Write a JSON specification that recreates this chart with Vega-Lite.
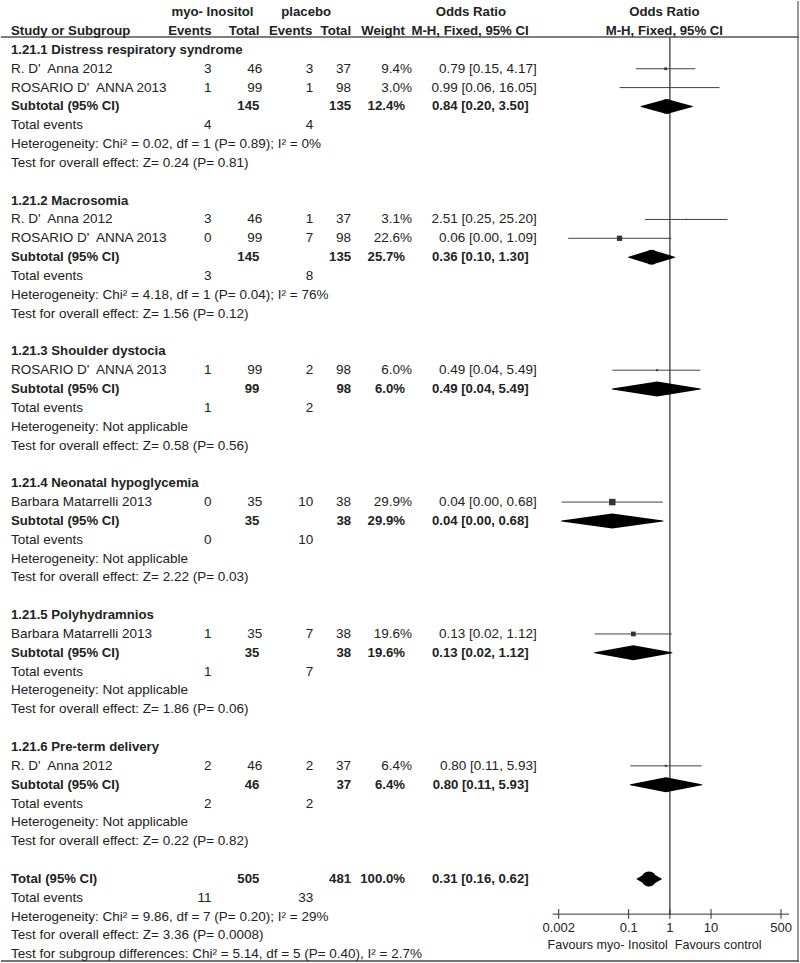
{
  "$schema": "https://vega.github.io/schema/vega-lite/v6.json",
  "width": 800,
  "height": 963,
  "autosize": {"type": "fit", "contains": "padding"},
  "padding": 0,
  "background": "white",
  "config": {
    "view": {"stroke": null},
    "text": {"font": "Liberation Sans", "fontSize": 13.5, "color": "#222", "baseline": "middle"}
  },
  "datasets": {
    "rows": [
      {"r": -2, "kind": "header1", "h1": "myo- Inositol", "h2": "placebo", "h3": "Odds Ratio", "h4": "Odds Ratio"},
      {"r": -1, "kind": "header", "label": "Study or Subgroup", "me": "Events", "mt": "Total", "pe": "Events", "pt": "Total", "w": "Weight", "or": "M-H, Fixed, 95% CI", "h4": "M-H, Fixed, 95% CI"},
      {"r": 0, "kind": "group", "label": "1.21.1 Distress respiratory syndrome"},
      {"r": 1, "kind": "study", "label": "R. D'\u00a0 Anna 2012", "me": "3", "mt": "46", "pe": "3", "pt": "37", "w": "9.4%", "or": "0.79 [0.15, 4.17]", "est": 0.79, "lo": 0.15, "hi": 4.17, "wn": 9.4},
      {"r": 2, "kind": "study", "label": "ROSARIO D'\u00a0 ANNA 2013", "me": "1", "mt": "99", "pe": "1", "pt": "98", "w": "3.0%", "or": "0.99 [0.06, 16.05]", "est": 0.99, "lo": 0.06, "hi": 16.05, "wn": 3.0},
      {"r": 3, "kind": "subtotal", "label": "Subtotal (95% CI)", "mt": "145", "pt": "135", "w": "12.4%", "or": "0.84 [0.20, 3.50]", "est": 0.84, "lo": 0.20, "hi": 3.50},
      {"r": 4, "kind": "info", "label": "Total events", "me": "4", "pe": "4"},
      {"r": 5, "kind": "info", "label": "Heterogeneity: Chi² = 0.02, df = 1 (P= 0.89); I² = 0%"},
      {"r": 6, "kind": "info", "label": "Test for overall effect: Z= 0.24 (P= 0.81)"},
      {"r": 8, "kind": "group", "label": "1.21.2 Macrosomia"},
      {"r": 9, "kind": "study", "label": "R. D'\u00a0 Anna 2012", "me": "3", "mt": "46", "pe": "1", "pt": "37", "w": "3.1%", "or": "2.51 [0.25, 25.20]", "est": 2.51, "lo": 0.25, "hi": 25.20, "wn": 3.1},
      {"r": 10, "kind": "study", "label": "ROSARIO D'\u00a0 ANNA 2013", "me": "0", "mt": "99", "pe": "7", "pt": "98", "w": "22.6%", "or": "0.06 [0.00, 1.09]", "est": 0.06, "lo": 0.0034, "hi": 1.09, "wn": 22.6},
      {"r": 11, "kind": "subtotal", "label": "Subtotal (95% CI)", "mt": "145", "pt": "135", "w": "25.7%", "or": "0.36 [0.10, 1.30]", "est": 0.36, "lo": 0.10, "hi": 1.30},
      {"r": 12, "kind": "info", "label": "Total events", "me": "3", "pe": "8"},
      {"r": 13, "kind": "info", "label": "Heterogeneity: Chi² = 4.18, df = 1 (P= 0.04); I² = 76%"},
      {"r": 14, "kind": "info", "label": "Test for overall effect: Z= 1.56 (P= 0.12)"},
      {"r": 16, "kind": "group", "label": "1.21.3 Shoulder dystocia"},
      {"r": 17, "kind": "study", "label": "ROSARIO D'\u00a0 ANNA 2013", "me": "1", "mt": "99", "pe": "2", "pt": "98", "w": "6.0%", "or": "0.49 [0.04, 5.49]", "est": 0.49, "lo": 0.04, "hi": 5.49, "wn": 6.0},
      {"r": 18, "kind": "subtotal", "label": "Subtotal (95% CI)", "mt": "99", "pt": "98", "w": "6.0%", "or": "0.49 [0.04, 5.49]", "est": 0.49, "lo": 0.04, "hi": 5.49},
      {"r": 19, "kind": "info", "label": "Total events", "me": "1", "pe": "2"},
      {"r": 20, "kind": "info", "label": "Heterogeneity: Not applicable"},
      {"r": 21, "kind": "info", "label": "Test for overall effect: Z= 0.58 (P= 0.56)"},
      {"r": 23, "kind": "group", "label": "1.21.4 Neonatal hypoglycemia"},
      {"r": 24, "kind": "study", "label": "Barbara Matarrelli 2013", "me": "0", "mt": "35", "pe": "10", "pt": "38", "w": "29.9%", "or": "0.04 [0.00, 0.68]", "est": 0.04, "lo": 0.00235, "hi": 0.68, "wn": 29.9},
      {"r": 25, "kind": "subtotal", "label": "Subtotal (95% CI)", "mt": "35", "pt": "38", "w": "29.9%", "or": "0.04 [0.00, 0.68]", "est": 0.04, "lo": 0.00235, "hi": 0.68},
      {"r": 26, "kind": "info", "label": "Total events", "me": "0", "pe": "10"},
      {"r": 27, "kind": "info", "label": "Heterogeneity: Not applicable"},
      {"r": 28, "kind": "info", "label": "Test for overall effect: Z= 2.22 (P= 0.03)"},
      {"r": 30, "kind": "group", "label": "1.21.5 Polyhydramnios"},
      {"r": 31, "kind": "study", "label": "Barbara Matarrelli 2013", "me": "1", "mt": "35", "pe": "7", "pt": "38", "w": "19.6%", "or": "0.13 [0.02, 1.12]", "est": 0.13, "lo": 0.015, "hi": 1.12, "wn": 19.6},
      {"r": 32, "kind": "subtotal", "label": "Subtotal (95% CI)", "mt": "35", "pt": "38", "w": "19.6%", "or": "0.13 [0.02, 1.12]", "est": 0.13, "lo": 0.015, "hi": 1.12},
      {"r": 33, "kind": "info", "label": "Total events", "me": "1", "pe": "7"},
      {"r": 34, "kind": "info", "label": "Heterogeneity: Not applicable"},
      {"r": 35, "kind": "info", "label": "Test for overall effect: Z= 1.86 (P= 0.06)"},
      {"r": 37, "kind": "group", "label": "1.21.6 Pre-term delivery"},
      {"r": 38, "kind": "study", "label": "R. D'\u00a0 Anna 2012", "me": "2", "mt": "46", "pe": "2", "pt": "37", "w": "6.4%", "or": "0.80 [0.11, 5.93]", "est": 0.80, "lo": 0.11, "hi": 5.93, "wn": 6.4},
      {"r": 39, "kind": "subtotal", "label": "Subtotal (95% CI)", "mt": "46", "pt": "37", "w": "6.4%", "or": "0.80 [0.11, 5.93]", "est": 0.80, "lo": 0.11, "hi": 5.93},
      {"r": 40, "kind": "info", "label": "Total events", "me": "2", "pe": "2"},
      {"r": 41, "kind": "info", "label": "Heterogeneity: Not applicable"},
      {"r": 42, "kind": "info", "label": "Test for overall effect: Z= 0.22 (P= 0.82)"},
      {"r": 44, "kind": "total", "label": "Total (95% CI)", "mt": "505", "pt": "481", "w": "100.0%", "or": "0.31 [0.16, 0.62]", "est": 0.31, "lo": 0.16, "hi": 0.62},
      {"r": 45, "kind": "info", "label": "Total events", "me": "11", "pe": "33"},
      {"r": 46, "kind": "info", "label": "Heterogeneity: Chi² = 9.86, df = 7 (P= 0.20); I² = 29%"},
      {"r": 47, "kind": "info", "label": "Test for overall effect: Z= 3.36 (P= 0.0008)"},
      {"r": 48, "kind": "info", "label": "Test for subgroup differences: Chi² = 5.14, df = 5 (P= 0.40), I² = 2.7%"}
    ],
    "ticks": [
      {"v": 0.002, "label": "0.002"},
      {"v": 0.1, "label": "0.1"},
      {"v": 1, "label": "1"},
      {"v": 10, "label": "10"},
      {"v": 500, "label": "500"}
    ],
    "favours": [
      {"side": "left", "text": "Favours myo- Inositol"},
      {"side": "right", "text": "Favours control"}
    ],
    "frame": [{"part": "line"}]
  },
  "data": {"name": "rows"},
  "layer": [
    {
      "layer": [
        {
          "data": {"name": "frame"},
          "mark": {"type": "rule", "color": "#555", "strokeWidth": 1.5},
          "encoding": {
            "x": {"datum": 0, "type": "quantitative", "scale": {"domain": [0, 800], "nice": false, "zero": false}, "axis": null},
            "x2": {"datum": 800},
            "y": {"datum": -0.689, "type": "quantitative", "scale": {"domain": [-2.5953, 48.411], "reverse": true, "nice": false, "zero": false}, "axis": null}
          }
        },
        {
          "data": {"name": "frame"},
          "mark": {"type": "rule", "color": "#444", "strokeWidth": 1.5},
          "encoding": {
            "x": {"datum": 0, "type": "quantitative", "scale": {"domain": [0, 800], "nice": false, "zero": false}, "axis": null},
            "x2": {"datum": 800},
            "y": {"datum": 48.36, "type": "quantitative", "scale": {"domain": [-2.5953, 48.411], "reverse": true, "nice": false, "zero": false}, "axis": null}
          }
        },
        {
          "data": {"name": "frame"},
          "mark": {"type": "rule", "color": "#555", "strokeWidth": 1.2},
          "encoding": {
            "x": {"datum": 799, "type": "quantitative", "scale": {"domain": [0, 800], "nice": false, "zero": false}, "axis": null},
            "y": {"datum": -2.5953, "type": "quantitative", "scale": {"domain": [-2.5953, 48.411], "reverse": true, "nice": false, "zero": false}, "axis": null},
            "y2": {"datum": 48.411}
          }
        },
        {
          "transform": [{"filter": {"field": "kind", "oneOf": ["study", "info"]}}],
          "mark": {"type": "text", "align": "left"},
          "encoding": {
            "x": {"datum": 10, "type": "quantitative", "scale": {"domain": [0, 800], "nice": false, "zero": false}, "axis": null},
            "y": {"field": "r", "type": "quantitative", "scale": {"domain": [-2.5953, 48.411], "reverse": true, "nice": false, "zero": false}, "axis": null},
            "text": {"field": "label", "type": "nominal"}
          }
        },
        {
          "transform": [{"filter": {"field": "kind", "oneOf": ["group", "subtotal", "total", "header"]}}],
          "mark": {"type": "text", "align": "left", "fontWeight": "bold", "fontSize": 13.2},
          "encoding": {
            "x": {"datum": 10, "type": "quantitative", "scale": {"domain": [0, 800], "nice": false, "zero": false}, "axis": null},
            "y": {"field": "r", "type": "quantitative", "scale": {"domain": [-2.5953, 48.411], "reverse": true, "nice": false, "zero": false}, "axis": null},
            "text": {"field": "label", "type": "nominal"}
          }
        },
        {
          "transform": [{"filter": {"field": "kind", "oneOf": ["study", "info"]}}, {"filter": "isValid(datum.me)"}],
          "mark": {"type": "text", "align": "right"},
          "encoding": {
            "x": {"datum": 211, "type": "quantitative", "scale": {"domain": [0, 800], "nice": false, "zero": false}, "axis": null},
            "y": {"field": "r", "type": "quantitative", "scale": {"domain": [-2.5953, 48.411], "reverse": true, "nice": false, "zero": false}, "axis": null},
            "text": {"field": "me", "type": "nominal"}
          }
        },
        {
          "transform": [{"filter": {"field": "kind", "oneOf": ["study", "info"]}}, {"filter": "isValid(datum.pe)"}],
          "mark": {"type": "text", "align": "right"},
          "encoding": {
            "x": {"datum": 313, "type": "quantitative", "scale": {"domain": [0, 800], "nice": false, "zero": false}, "axis": null},
            "y": {"field": "r", "type": "quantitative", "scale": {"domain": [-2.5953, 48.411], "reverse": true, "nice": false, "zero": false}, "axis": null},
            "text": {"field": "pe", "type": "nominal"}
          }
        },
        {
          "transform": [{"filter": {"field": "kind", "equal": "study"}}],
          "mark": {"type": "text", "align": "right"},
          "encoding": {
            "x": {"datum": 262, "type": "quantitative", "scale": {"domain": [0, 800], "nice": false, "zero": false}, "axis": null},
            "y": {"field": "r", "type": "quantitative", "scale": {"domain": [-2.5953, 48.411], "reverse": true, "nice": false, "zero": false}, "axis": null},
            "text": {"field": "mt", "type": "nominal"}
          }
        },
        {
          "transform": [{"filter": {"field": "kind", "equal": "study"}}],
          "mark": {"type": "text", "align": "right"},
          "encoding": {
            "x": {"datum": 351, "type": "quantitative", "scale": {"domain": [0, 800], "nice": false, "zero": false}, "axis": null},
            "y": {"field": "r", "type": "quantitative", "scale": {"domain": [-2.5953, 48.411], "reverse": true, "nice": false, "zero": false}, "axis": null},
            "text": {"field": "pt", "type": "nominal"}
          }
        },
        {
          "transform": [{"filter": {"field": "kind", "equal": "study"}}],
          "mark": {"type": "text", "align": "right"},
          "encoding": {
            "x": {"datum": 412, "type": "quantitative", "scale": {"domain": [0, 800], "nice": false, "zero": false}, "axis": null},
            "y": {"field": "r", "type": "quantitative", "scale": {"domain": [-2.5953, 48.411], "reverse": true, "nice": false, "zero": false}, "axis": null},
            "text": {"field": "w", "type": "nominal"}
          }
        },
        {
          "transform": [{"filter": {"field": "kind", "equal": "study"}}],
          "mark": {"type": "text", "align": "right"},
          "encoding": {
            "x": {"datum": 537, "type": "quantitative", "scale": {"domain": [0, 800], "nice": false, "zero": false}, "axis": null},
            "y": {"field": "r", "type": "quantitative", "scale": {"domain": [-2.5953, 48.411], "reverse": true, "nice": false, "zero": false}, "axis": null},
            "text": {"field": "or", "type": "nominal"}
          }
        },
        {
          "transform": [{"filter": {"field": "kind", "equal": "header"}}],
          "mark": {"type": "text", "align": "right", "fontWeight": "bold", "fontSize": 13.2},
          "encoding": {
            "x": {"datum": 211, "type": "quantitative", "scale": {"domain": [0, 800], "nice": false, "zero": false}, "axis": null},
            "y": {"field": "r", "type": "quantitative", "scale": {"domain": [-2.5953, 48.411], "reverse": true, "nice": false, "zero": false}, "axis": null},
            "text": {"field": "me", "type": "nominal"}
          }
        },
        {
          "transform": [{"filter": {"field": "kind", "equal": "header"}}],
          "mark": {"type": "text", "align": "right", "fontWeight": "bold", "fontSize": 13.2},
          "encoding": {
            "x": {"datum": 312, "type": "quantitative", "scale": {"domain": [0, 800], "nice": false, "zero": false}, "axis": null},
            "y": {"field": "r", "type": "quantitative", "scale": {"domain": [-2.5953, 48.411], "reverse": true, "nice": false, "zero": false}, "axis": null},
            "text": {"field": "pe", "type": "nominal"}
          }
        },
        {
          "transform": [{"filter": {"field": "kind", "oneOf": ["subtotal", "total", "header"]}}],
          "mark": {"type": "text", "align": "right", "fontWeight": "bold", "fontSize": 13.2},
          "encoding": {
            "x": {"datum": 259, "type": "quantitative", "scale": {"domain": [0, 800], "nice": false, "zero": false}, "axis": null},
            "y": {"field": "r", "type": "quantitative", "scale": {"domain": [-2.5953, 48.411], "reverse": true, "nice": false, "zero": false}, "axis": null},
            "text": {"field": "mt", "type": "nominal"}
          }
        },
        {
          "transform": [{"filter": {"field": "kind", "oneOf": ["subtotal", "total", "header"]}}],
          "mark": {"type": "text", "align": "right", "fontWeight": "bold", "fontSize": 13.2},
          "encoding": {
            "x": {"datum": 351, "type": "quantitative", "scale": {"domain": [0, 800], "nice": false, "zero": false}, "axis": null},
            "y": {"field": "r", "type": "quantitative", "scale": {"domain": [-2.5953, 48.411], "reverse": true, "nice": false, "zero": false}, "axis": null},
            "text": {"field": "pt", "type": "nominal"}
          }
        },
        {
          "transform": [{"filter": {"field": "kind", "oneOf": ["subtotal", "total", "header"]}}],
          "mark": {"type": "text", "align": "right", "fontWeight": "bold", "fontSize": 13.2},
          "encoding": {
            "x": {"datum": 405, "type": "quantitative", "scale": {"domain": [0, 800], "nice": false, "zero": false}, "axis": null},
            "y": {"field": "r", "type": "quantitative", "scale": {"domain": [-2.5953, 48.411], "reverse": true, "nice": false, "zero": false}, "axis": null},
            "text": {"field": "w", "type": "nominal"}
          }
        },
        {
          "transform": [{"filter": {"field": "kind", "oneOf": ["subtotal", "total", "header"]}}],
          "mark": {"type": "text", "align": "right", "fontWeight": "bold", "fontSize": 13.2},
          "encoding": {
            "x": {"datum": 529, "type": "quantitative", "scale": {"domain": [0, 800], "nice": false, "zero": false}, "axis": null},
            "y": {"field": "r", "type": "quantitative", "scale": {"domain": [-2.5953, 48.411], "reverse": true, "nice": false, "zero": false}, "axis": null},
            "text": {"field": "or", "type": "nominal"}
          }
        },
        {
          "transform": [{"filter": "isValid(datum.h1)"}],
          "mark": {"type": "text", "align": "center", "fontWeight": "bold", "fontSize": 13.2},
          "encoding": {
            "x": {"datum": 212, "type": "quantitative", "scale": {"domain": [0, 800], "nice": false, "zero": false}, "axis": null},
            "y": {"field": "r", "type": "quantitative", "scale": {"domain": [-2.5953, 48.411], "reverse": true, "nice": false, "zero": false}, "axis": null},
            "text": {"field": "h1", "type": "nominal"}
          }
        },
        {
          "transform": [{"filter": "isValid(datum.h2)"}],
          "mark": {"type": "text", "align": "center", "fontWeight": "bold", "fontSize": 13.2},
          "encoding": {
            "x": {"datum": 306, "type": "quantitative", "scale": {"domain": [0, 800], "nice": false, "zero": false}, "axis": null},
            "y": {"field": "r", "type": "quantitative", "scale": {"domain": [-2.5953, 48.411], "reverse": true, "nice": false, "zero": false}, "axis": null},
            "text": {"field": "h2", "type": "nominal"}
          }
        },
        {
          "transform": [{"filter": "isValid(datum.h3)"}],
          "mark": {"type": "text", "align": "center", "fontWeight": "bold", "fontSize": 13.2},
          "encoding": {
            "x": {"datum": 471, "type": "quantitative", "scale": {"domain": [0, 800], "nice": false, "zero": false}, "axis": null},
            "y": {"field": "r", "type": "quantitative", "scale": {"domain": [-2.5953, 48.411], "reverse": true, "nice": false, "zero": false}, "axis": null},
            "text": {"field": "h3", "type": "nominal"}
          }
        },
        {
          "transform": [{"filter": "isValid(datum.h4)"}],
          "mark": {"type": "text", "align": "center", "fontWeight": "bold", "fontSize": 13.2},
          "encoding": {
            "x": {"datum": 665, "type": "quantitative", "scale": {"domain": [0, 800], "nice": false, "zero": false}, "axis": null},
            "y": {"field": "r", "type": "quantitative", "scale": {"domain": [-2.5953, 48.411], "reverse": true, "nice": false, "zero": false}, "axis": null},
            "text": {"field": "h4", "type": "nominal"}
          }
        }
      ]
    },
    {
      "layer": [
        {
          "data": {"name": "frame"},
          "mark": {"type": "rule", "color": "#555", "strokeWidth": 1.5},
          "encoding": {
            "x": {"datum": 1, "type": "quantitative", "scale": {"type": "log", "domain": [0.001429, 781.6], "range": [551.7, 788], "nice": false}, "axis": null},
            "y": {"datum": -0.689, "type": "quantitative", "scale": {"domain": [-2.5953, 48.411], "reverse": true, "nice": false, "zero": false}, "axis": null},
            "y2": {"datum": 45.87}
          }
        },
        {
          "transform": [{"filter": {"field": "kind", "equal": "study"}}],
          "mark": {"type": "rule", "color": "#444", "strokeWidth": 1},
          "encoding": {
            "x": {"field": "lo", "type": "quantitative", "scale": {"type": "log", "domain": [0.001429, 781.6], "range": [551.7, 788], "nice": false}, "axis": null},
            "x2": {"field": "hi"},
            "y": {"field": "r", "type": "quantitative", "scale": {"domain": [-2.5953, 48.411], "reverse": true, "nice": false, "zero": false}, "axis": null}
          }
        },
        {
          "transform": [{"filter": {"field": "kind", "equal": "study"}}],
          "mark": {"type": "square", "filled": true, "color": "#333", "opacity": 1},
          "encoding": {
            "x": {"field": "est", "type": "quantitative", "scale": {"type": "log", "domain": [0.001429, 781.6], "range": [551.7, 788], "nice": false}, "axis": null},
            "y": {"field": "r", "type": "quantitative", "scale": {"domain": [-2.5953, 48.411], "reverse": true, "nice": false, "zero": false}, "axis": null},
            "size": {"field": "wn", "type": "quantitative", "scale": {"type": "pow", "exponent": 1.5, "domain": [0, 30], "range": [0, 42]}, "legend": null}
          }
        },
        {
          "transform": [
            {"filter": {"field": "kind", "oneOf": ["subtotal", "total"]}},
            {"fold": ["lo", "est", "hi"], "as": ["key", "val"]}
          ],
          "mark": {"type": "trail", "color": "#000", "opacity": 1},
          "encoding": {
            "x": {"field": "val", "type": "quantitative", "scale": {"type": "log", "domain": [0.001429, 781.6], "range": [551.7, 788], "nice": false}, "axis": null},
            "y": {"field": "r", "type": "quantitative", "scale": {"domain": [-2.5953, 48.411], "reverse": true, "nice": false, "zero": false}, "axis": null},
            "detail": {"field": "r", "type": "nominal"},
            "size": {"condition": {"test": "datum.key === 'est'", "value": 15}, "value": 0}
          }
        },
        {
          "data": {"name": "frame"},
          "mark": {"type": "rule", "color": "#333", "strokeWidth": 1},
          "encoding": {
            "x": {"datum": 0.001429, "type": "quantitative", "scale": {"type": "log", "domain": [0.001429, 781.6], "range": [551.7, 788], "nice": false}, "axis": null},
            "x2": {"datum": 781.6},
            "y": {"datum": 45.87, "type": "quantitative", "scale": {"domain": [-2.5953, 48.411], "reverse": true, "nice": false, "zero": false}, "axis": null}
          }
        },
        {
          "data": {"name": "ticks"},
          "mark": {"type": "rule", "color": "#333", "strokeWidth": 1},
          "encoding": {
            "x": {"field": "v", "type": "quantitative", "scale": {"type": "log", "domain": [0.001429, 781.6], "range": [551.7, 788], "nice": false}, "axis": null},
            "y": {"datum": 45.6, "type": "quantitative", "scale": {"domain": [-2.5953, 48.411], "reverse": true, "nice": false, "zero": false}, "axis": null},
            "y2": {"datum": 46.12}
          }
        },
        {
          "data": {"name": "ticks"},
          "mark": {"type": "text", "align": "center", "fontSize": 13},
          "encoding": {
            "x": {"field": "v", "type": "quantitative", "scale": {"type": "log", "domain": [0.001429, 781.6], "range": [551.7, 788], "nice": false}, "axis": null},
            "y": {"datum": 46.6, "type": "quantitative", "scale": {"domain": [-2.5953, 48.411], "reverse": true, "nice": false, "zero": false}, "axis": null},
            "text": {"field": "label", "type": "nominal"}
          }
        },
        {
          "data": {"name": "favours"},
          "transform": [{"filter": {"field": "side", "equal": "left"}}],
          "mark": {"type": "text", "align": "right", "dx": -2, "fontSize": 12.6},
          "encoding": {
            "x": {"datum": 1, "type": "quantitative", "scale": {"type": "log", "domain": [0.001429, 781.6], "range": [551.7, 788], "nice": false}, "axis": null},
            "y": {"datum": 47.51, "type": "quantitative", "scale": {"domain": [-2.5953, 48.411], "reverse": true, "nice": false, "zero": false}, "axis": null},
            "text": {"field": "text", "type": "nominal"}
          }
        },
        {
          "data": {"name": "favours"},
          "transform": [{"filter": {"field": "side", "equal": "right"}}],
          "mark": {"type": "text", "align": "left", "dx": 5, "fontSize": 12.6},
          "encoding": {
            "x": {"datum": 1, "type": "quantitative", "scale": {"type": "log", "domain": [0.001429, 781.6], "range": [551.7, 788], "nice": false}, "axis": null},
            "y": {"datum": 47.51, "type": "quantitative", "scale": {"domain": [-2.5953, 48.411], "reverse": true, "nice": false, "zero": false}, "axis": null},
            "text": {"field": "text", "type": "nominal"}
          }
        }
      ]
    }
  ],
  "resolve": {"scale": {"x": "independent"}}
}
